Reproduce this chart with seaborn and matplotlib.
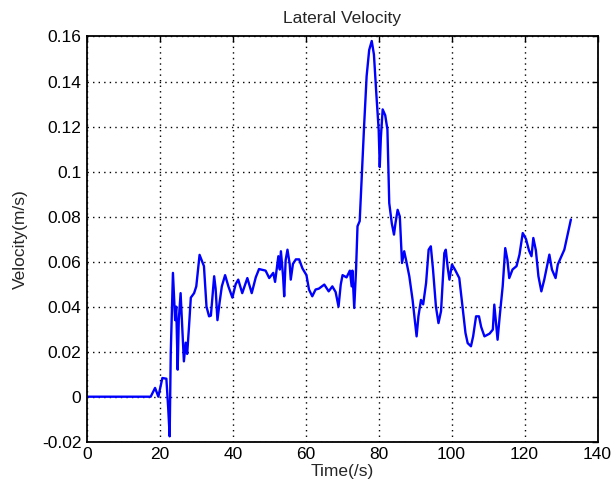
import numpy as np
import pandas as pd
import matplotlib
matplotlib.use('Agg')
import matplotlib.pyplot as plt
import seaborn as sns

# Datos
time = [0, 5, 10, 15, 17.5, 18.7, 19.6, 20.7, 21.8, 22.3, 22.7, 23.0, 23.6, 24.2, 24.5,
        24.9, 25.2, 25.7, 26.2, 26.6, 27.1, 27.5, 28.0, 28.5, 29.4, 30.0, 30.9, 32.1,
        32.8, 33.5, 34.0, 34.9, 35.3, 35.8, 36.4, 37.0, 37.9, 38.8, 39.9, 40.8, 41.5,
        42.6, 44.0, 45.2, 46.3, 47.2, 49.0, 50.0, 51.1, 51.6, 52.5, 52.9, 53.2, 53.8,
        54.1, 54.5, 55.0, 55.6, 55.9, 56.5, 57.3, 58.2, 59.1, 60.2, 60.9, 61.8, 62.7,
        63.6, 65.1, 66.3, 67.3, 68.2, 69.0, 69.6, 70.1, 71.2, 72.1, 72.6, 72.8, 73.3,
        73.8, 74.2, 74.8, 75.4, 76.0, 76.7, 77.4, 78.1, 78.7, 79.4, 80.0, 80.3, 80.6,
        81.1, 81.8, 82.4, 82.9, 83.6, 84.2, 84.6, 85.2, 85.8, 86.4, 87.0, 87.6, 88.4,
        89.3, 90.0, 90.4, 90.9, 91.6, 92.2, 93.0, 93.7, 94.3, 94.9, 95.7, 96.4, 97.1,
        98.0, 98.4, 98.9, 99.4, 100.1, 100.9, 102.1, 103.0, 103.8, 104.4, 105.3, 105.9,
        106.7, 107.5, 108.1, 109.0, 110.4, 111.3, 111.7, 112.1, 112.6, 113.2, 114.0,
        114.7, 115.3, 115.8, 116.7, 117.8, 118.6, 119.5, 120.4, 121.2, 121.9, 122.4,
        123.1, 123.8, 124.6, 125.4, 126.4, 126.8, 127.5, 128.5, 129.1, 130.0, 130.9,
        131.8, 132.7]
velocity = [0, 0, 0, 0, 0, 0.0039, 0, 0.0083, 0.008, -0.005, -0.0176, 0.0194, 0.055,
            0.034, 0.040, 0.012, 0.034, 0.046, 0.029, 0.0157, 0.024, 0.019, 0.031, 0.044,
            0.046, 0.049, 0.063, 0.058, 0.040, 0.0357, 0.036, 0.0535, 0.048, 0.034, 0.042,
            0.049, 0.054, 0.049, 0.044, 0.050, 0.052, 0.046, 0.0527, 0.046, 0.053, 0.0567,
            0.056, 0.0527, 0.055, 0.051, 0.0624, 0.0565, 0.0646, 0.0533, 0.0446, 0.0607,
            0.0653, 0.059, 0.052, 0.059, 0.061, 0.061, 0.057, 0.054, 0.0476, 0.0446,
            0.0476, 0.048, 0.0498, 0.0468, 0.049, 0.0465, 0.040, 0.0498, 0.054, 0.053,
            0.056, 0.049, 0.056, 0.0394, 0.0564, 0.0757, 0.078, 0.0994, 0.120, 0.1424,
            0.154, 0.158, 0.152, 0.1335, 0.1187, 0.102, 0.115, 0.1276, 0.125, 0.1187,
            0.086, 0.077, 0.072, 0.077, 0.083, 0.080, 0.0594, 0.0646, 0.060, 0.0535,
            0.043, 0.0327, 0.0268, 0.0357, 0.043, 0.041, 0.0505, 0.0653, 0.0668, 0.0565,
            0.040, 0.0327, 0.038, 0.0638, 0.0653, 0.0577, 0.052, 0.0587, 0.0565, 0.0527,
            0.040, 0.0283, 0.0238, 0.0224, 0.0268, 0.0357, 0.0357, 0.031, 0.0268, 0.028,
            0.0298, 0.0409, 0.034, 0.0253, 0.036, 0.049, 0.066, 0.0608, 0.0527, 0.0565,
            0.058, 0.0631, 0.0727, 0.070, 0.065, 0.0624, 0.0705, 0.065, 0.0535, 0.0468,
            0.052, 0.060, 0.0631, 0.0565, 0.0527, 0.0587, 0.062, 0.0653, 0.072, 0.0787]

x_ticks = [0, 20, 40, 60, 80, 100, 120, 140]
y_ticks = [-0.02, 0, 0.02, 0.04, 0.06, 0.08, 0.1, 0.12, 0.14, 0.16]
y_tick_labels = ['-0.02', '0', '0.02', '0.04', '0.06', '0.08', '0.1', '0.12', '0.14', '0.16']

df = pd.DataFrame({'Time': time, 'Velocity': velocity})

sns.set_style('white')
plt.rcParams['font.family'] = ['Liberation Sans', 'DejaVu Sans']

fig = plt.figure(figsize=(6.16, 4.93), dpi=100)
ax = fig.add_axes([0.141, 0.104, 0.829, 0.822])

sns.lineplot(data=df, x='Time', y='Velocity', color='#0000ff', linewidth=1.7,
             estimator=None, sort=False, ax=ax)

ax.set_xlim(0, 140)
ax.set_ylim(-0.02, 0.16)
ax.set_xticks(x_ticks)
ax.set_yticks(y_ticks)
ax.set_yticklabels(y_tick_labels)

ax.grid(True, color='black', linestyle=(0, (1, 3)), linewidth=1.0)
for s in ax.spines.values():
    s.set_color('black')
    s.set_linewidth(1.3)
ax.tick_params(direction='in', length=4, width=1, top=True, right=True,
               labelsize=12.5, colors='black', pad=4)

ax.set_title('Lateral Velocity', fontsize=12.5, pad=10)
ax.set_xlabel('Time(/s)', fontsize=12.5, labelpad=1)
ax.set_ylabel('Velocity(m/s)', fontsize=12.5, labelpad=10)

fig.savefig('out.png', dpi=100)
plt.close()
